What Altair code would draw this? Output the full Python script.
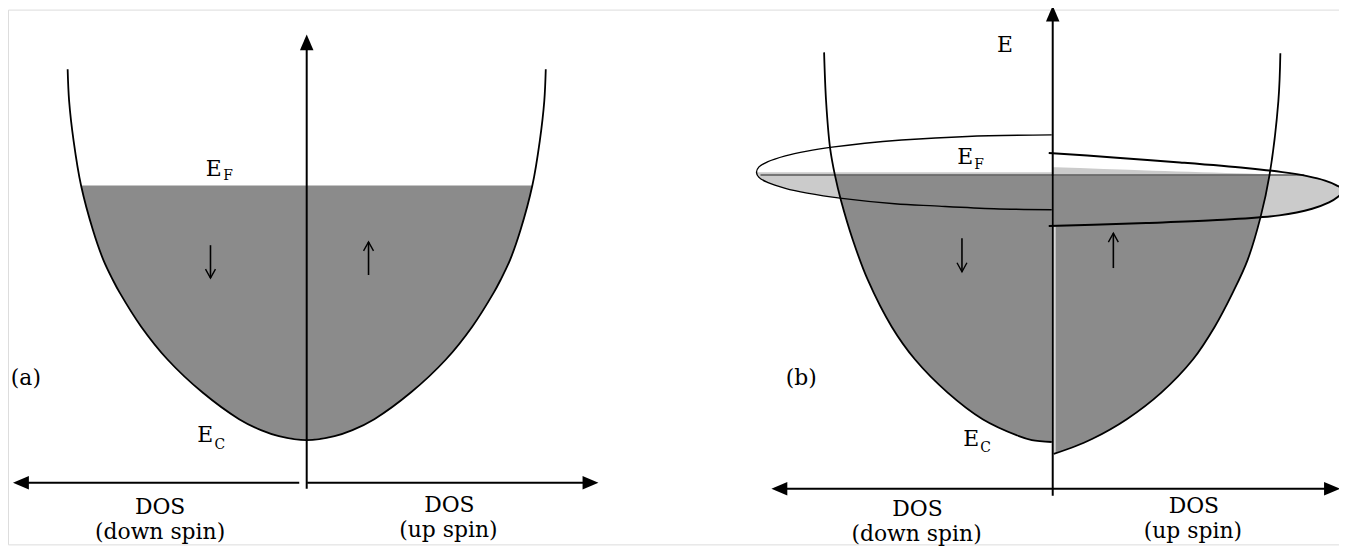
import altair as alt
import pandas as pd

# page geometry: data coordinates are page pixels
X0, Y0 = 8, 8
W, H = 1339, 538

DARK = "#8b8b8b"
LIGHT = "#cbcbcb"
FONT = "DejaVu Serif"

# ---------------- panel (a): DOS parabola ----------------
A_Y = [68, 100, 140, 185, 230, 260, 280, 293, 327, 360, 393, 420, 431, 437, 441]
A_LEFT_X = [68, 69.5, 74, 81.5, 93.5, 104, 113.5, 120.5, 142, 168.5, 203.5, 240.5, 262.5, 280.5, 308.5]
A_RIGHT_X = [549, 547.5, 543, 535.5, 523.5, 513, 503.5, 496.5, 475, 448.5, 413.5, 376.5, 354.5, 336.5, 308.5]
A_EF = 185

# ---------------- panel (b): exchange-split DOS curves ----------------
B_DOWN_Y = [51, 100, 147, 175, 200, 240, 280, 327, 360, 393, 420, 437, 441, 443]
B_DOWN_X = [829, 831, 835, 840, 846, 858, 873, 897, 920.5, 953, 988.5, 1025, 1038, 1058]
B_UP_Y = [52, 100, 175, 217, 260, 293, 327, 360, 393, 420, 440, 448.5, 455]
B_UP_X = [1288, 1286, 1277, 1268, 1255, 1240, 1222, 1200, 1168.5, 1133.5, 1098.5, 1078.5, 1060]
B_EF = 175
B_AXIS_X = 1059

# Fermi-surface disc halves (b)
EL_DN_UP_X = [1058, 973, 907, 870, 837, 812, 790, 772, 763.5, 761]
EL_DN_UP_Y = [134, 135.6, 139.2, 142.4, 146.4, 150.4, 155.2, 161.2, 166.2, 171.5]
EL_DN_LO_X = [761, 763.5, 772, 790, 812, 847, 900, 940, 1000, 1058]
EL_DN_LO_Y = [171.5, 176.8, 181.8, 187.8, 192.6, 197.9, 203.3, 205.5, 208.3, 209.3]
EL_UP_UP_X = [1055, 1120, 1187, 1253, 1290, 1315, 1333, 1344, 1352]
EL_UP_UP_Y = [152.3, 156.7, 161.7, 167.3, 171.5, 175.5, 180, 184.5, 190]
EL_UP_LO_X = [1352, 1345, 1337, 1320, 1287, 1220, 1153, 1100, 1055]
EL_UP_LO_Y = [190, 197, 202, 208.3, 215, 220, 222.7, 224.5, 225.7]

# light grey part of the up-spin disc (right boundary as function of y)
GR_UP_Y = [166.7, 170, 173, 175.5, 180, 184.5, 190, 197, 202, 208.3, 215, 220, 222.7, 224.5, 225.7]
GR_UP_X = [1062, 1160, 1255, 1315, 1333, 1344, 1352, 1345, 1337, 1320, 1287, 1220, 1153, 1100, 1060]

# axes (a) and (b)
VAX_X = [308.5, 1059]
VAX_Y1 = [40, 14]
VAX_Y2 = [490, 497]
HAX_X1 = [20, 309, 784]
HAX_X2 = [301, 594, 1340]
HAX_Y = [484, 484, 490]
HEAD_X = [308.5, 21, 594, 1059, 784, 1340]
HEAD_Y = [41, 484, 484, 12, 490, 490]
HEAD_DIR = ["up", "left", "right", "up", "left", "right"]

# spin arrows: x, tail y, tip y
SPIN_X = [211.7, 370.7, 967.7, 1120]
SPIN_TAIL = [245, 275, 238, 268]
SPIN_TIP = [278, 241.7, 271.7, 233]

# labels
TXT = ["E", "E", "(a)", "DOS", "(down spin)", "DOS", "(up spin)",
       "E", "E", "E", "(b)", "DOS", "(down spin)", "DOS", "(up spin)"]
TXT_X = [215, 206.5, 26, 161, 161, 452, 451, 1011, 971, 977, 806, 923, 922, 1201, 1200]
TXT_Y = [175, 443, 386, 515, 541, 513, 539, 51, 163, 446.7, 386, 517, 543, 514, 540]
SUB = ["F", "C", "F", "C"]
SUB_X = [229.5, 221, 985, 991.5]
SUB_Y = [179, 450, 168, 453]

xs = alt.Scale(domain=[X0, X0 + W], nice=False, zero=False)
ys = alt.Scale(domain=[Y0, Y0 + H], nice=False, zero=False, reverse=True)


def px(f):
    return alt.X(f, type="quantitative", scale=xs, axis=None)


def py(f):
    return alt.Y(f, type="quantitative", scale=ys, axis=None)


def seq(xv, yv):
    return pd.DataFrame({"x": xv, "y": yv, "k": list(range(len(xv)))})


layers = []

# light grey discs (b)
gl = pd.DataFrame({"y": EL_DN_LO_Y, "x": EL_DN_LO_X, "x2": [B_AXIS_X - 1] * len(EL_DN_LO_Y)})
layers.append(alt.Chart(gl).mark_area(orient="horizontal", color=LIGHT, interpolate="monotone")
              .encode(y=py("y"), x=px("x"), x2="x2"))
gr = pd.DataFrame({"y": GR_UP_Y, "x2": GR_UP_X, "x": [B_AXIS_X] * len(GR_UP_Y)})
layers.append(alt.Chart(gr).mark_area(orient="horizontal", color=LIGHT, interpolate="monotone")
              .encode(y=py("y"), x=px("x"), x2="x2"))

# dark filled states
fa = pd.DataFrame({"y": A_Y, "xl": A_LEFT_X, "xr": A_RIGHT_X})
layers.append(alt.Chart(fa).transform_filter(alt.datum.y >= A_EF)
              .mark_area(orient="horizontal", color=DARK, interpolate="monotone")
              .encode(y=py("y"), x=px("xl"), x2="xr"))
fbd = pd.DataFrame({"y": B_DOWN_Y, "x": B_DOWN_X, "x2": [B_AXIS_X - 1] * len(B_DOWN_Y)})
layers.append(alt.Chart(fbd).transform_filter(alt.datum.y >= B_EF)
              .mark_area(orient="horizontal", color=DARK, interpolate="monotone")
              .encode(y=py("y"), x=px("x"), x2="x2"))
fbu = pd.DataFrame({"y": B_UP_Y, "x2": B_UP_X, "x": [B_AXIS_X + 1] * len(B_UP_Y)})
layers.append(alt.Chart(fbu).transform_filter(alt.datum.y >= B_EF)
              .mark_area(orient="horizontal", color=DARK, interpolate="monotone")
              .encode(y=py("y"), x=px("x"), x2="x2"))

# thin white seam right of the (b) axis
seam = pd.DataFrame({"x": [B_AXIS_X + 2.2], "y": [226], "y2": [455]})
layers.append(alt.Chart(seam).mark_rule(color="white", strokeWidth=1.1)
              .encode(x=px("x"), y=py("y"), y2="y2"))

# E_F surface line (b)
efl = pd.DataFrame({"x": [765], "x2": [1312], "y": [B_EF - 0.5]})
layers.append(alt.Chart(efl).mark_rule(color="#5a5a5a", strokeWidth=1.5)
              .encode(x=px("x"), x2="x2", y=py("y")))

# DOS curves
pa = seq(A_LEFT_X + A_RIGHT_X[::-1][1:], A_Y + A_Y[::-1][1:])
layers.append(alt.Chart(pa).mark_line(color="black", strokeWidth=1.8, interpolate="catmull-rom")
              .encode(x=px("x"), y=py("y"), order="k:Q"))
for xv, yv in [(B_DOWN_X, B_DOWN_Y), (B_UP_X, B_UP_Y)]:
    layers.append(alt.Chart(seq(xv, yv)).mark_line(color="black", strokeWidth=1.8, interpolate="catmull-rom")
                  .encode(x=px("x"), y=py("y"), order="k:Q"))

# disc outlines (b)
for xv, yv, sw in [(EL_DN_UP_X + EL_DN_LO_X[1:], EL_DN_UP_Y + EL_DN_LO_Y[1:], 1.4),
                   (EL_UP_UP_X + EL_UP_LO_X[1:], EL_UP_UP_Y + EL_UP_LO_Y[1:], 2.0)]:
    layers.append(alt.Chart(seq(xv, yv)).mark_line(color="black", strokeWidth=sw, interpolate="catmull-rom")
                  .encode(x=px("x"), y=py("y"), order="k:Q"))

# axes
vax = pd.DataFrame({"x": VAX_X, "y": VAX_Y1, "y2": VAX_Y2})
layers.append(alt.Chart(vax).mark_rule(color="black", strokeWidth=2)
              .encode(x=px("x"), y=py("y"), y2="y2"))
hax = pd.DataFrame({"x": HAX_X1, "x2": HAX_X2, "y": HAX_Y})
layers.append(alt.Chart(hax).mark_rule(color="black", strokeWidth=2.2)
              .encode(x=px("x"), x2="x2", y=py("y")))
heads = pd.DataFrame({"x": HEAD_X, "y": HEAD_Y, "d": HEAD_DIR})
layers.append(alt.Chart(heads).mark_point(filled=True, color="black", size=256, opacity=1, strokeWidth=0)
              .encode(x=px("x"), y=py("y"),
                      shape=alt.Shape("d:N", legend=None,
                                      scale=alt.Scale(domain=["up", "left", "right"],
                                                      range=["M0,-1L0.85,1L-0.85,1Z",
                                                             "M-1,0L1,-0.85L1,0.85Z",
                                                             "M1,0L-1,-0.85L-1,0.85Z"]))))

# spin arrows (shaft + open head)
shaft = pd.DataFrame({"x": SPIN_X, "y": SPIN_TAIL, "y2": SPIN_TIP})
layers.append(alt.Chart(shaft).mark_rule(color="black", strokeWidth=1.6)
              .encode(x=px("x"), y=py("y"), y2="y2"))
hrows = []
for i, (x, t, p) in enumerate(zip(SPIN_X, SPIN_TAIL, SPIN_TIP)):
    back = 9 if p > t else -9
    for j, (dx, dy) in enumerate([(-5, -back), (0, 0), (5, -back)]):
        hrows.append({"g": i, "k": j, "x": x + dx, "y": p + dy})
layers.append(alt.Chart(pd.DataFrame(hrows)).mark_line(color="black", strokeWidth=1.4)
              .encode(x=px("x"), y=py("y"), detail="g:N", order="k:Q"))

# texts
t = pd.DataFrame({"t": TXT, "x": TXT_X, "y": TXT_Y})
layers.append(alt.Chart(t).mark_text(font=FONT, fontSize=22, color="black", align="center", baseline="alphabetic")
              .encode(x=px("x"), y=py("y"), text="t:N"))
s = pd.DataFrame({"t": SUB, "x": SUB_X, "y": SUB_Y})
layers.append(alt.Chart(s).mark_text(font=FONT, fontSize=14, color="black", align="center", baseline="alphabetic")
              .encode(x=px("x"), y=py("y"), text="t:N"))

chart = (alt.layer(*layers)
         .properties(width=W, height=H, padding=0, autosize=alt.AutoSizeParams(type="none"))
         .configure_view(strokeWidth=0, stroke="transparent")
         .configure(background="white"))

chart.save("out.html", embed_options={"renderer": "svg", "actions": False})
